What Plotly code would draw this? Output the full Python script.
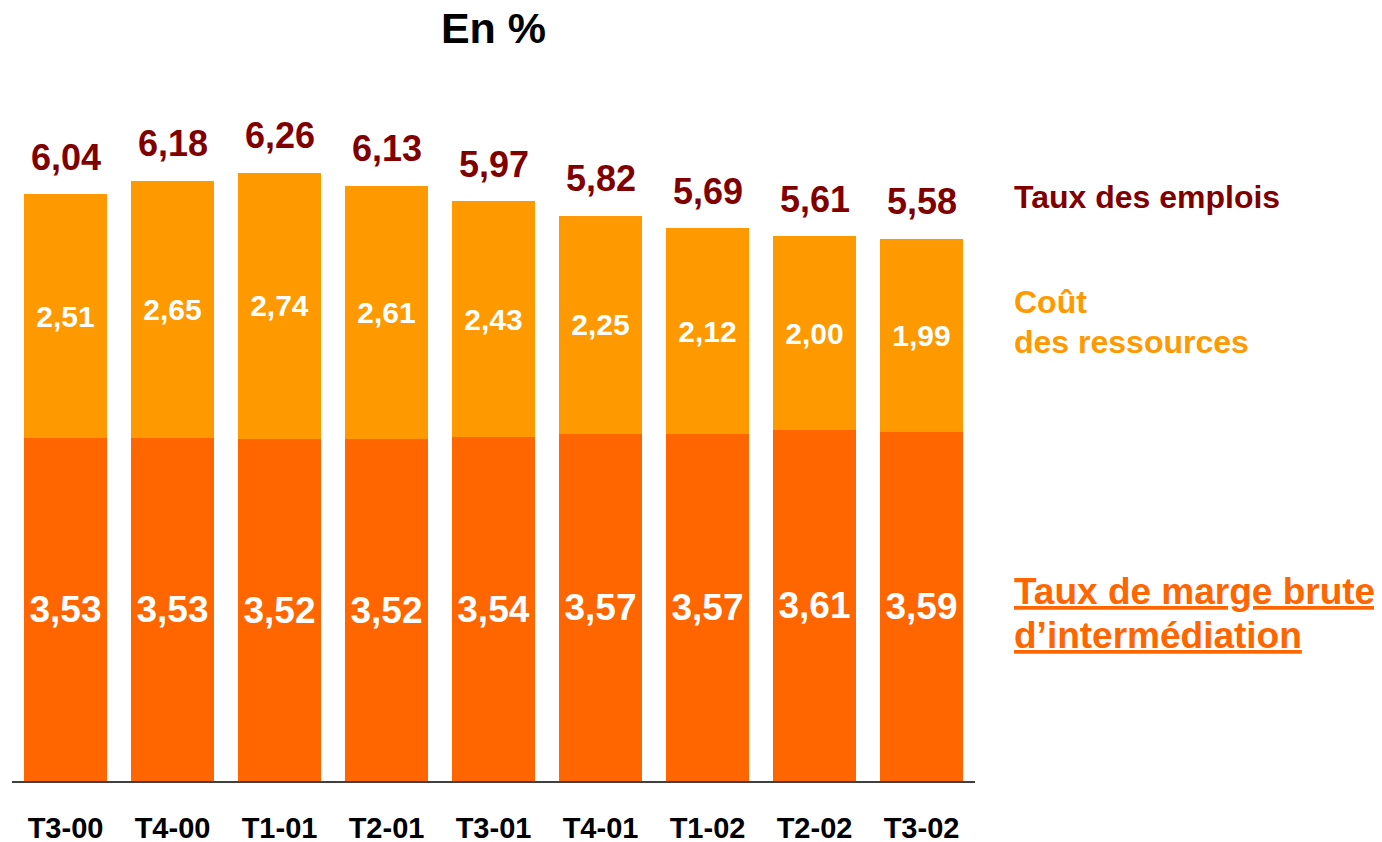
import plotly.graph_objects as go

# quarters shown on the x axis
quarters = ['T3-00', 'T4-00', 'T1-01', 'T2-01', 'T3-01', 'T4-01', 'T1-02', 'T2-02', 'T3-02']

# taux de marge brute d'intermediation (bottom segment)
marge = [3.53, 3.53, 3.52, 3.52, 3.54, 3.57, 3.57, 3.61, 3.59]
# cout des ressources (top segment)
cout = [2.51, 2.65, 2.74, 2.61, 2.43, 2.25, 2.12, 2.00, 1.99]
# taux des emplois (total, shown above each bar)
emplois = [6.04, 6.18, 6.26, 6.13, 5.97, 5.82, 5.69, 5.61, 5.58]

FONT = 'Liberation Sans, Arial, sans-serif'
C_MARGE = '#FF6600'
C_COUT = '#FF9900'
C_EMPLOIS = '#800000'

W, H = 1382, 842
# the page body adds an 8px offset, so everything is placed 8px up and left
OFF = 8


def fr(v):
    # french decimal comma
    return '{:.2f}'.format(v).replace('.', ',')


def side_label(text, y, color, size):
    fig.add_annotation(xref='paper', yref='paper', x=1.038, y=y,
                       xanchor='left', yanchor='middle', align='left',
                       text=text, showarrow=False,
                       font=dict(color=color, size=size, family=FONT))


fig = go.Figure()

fig.add_trace(go.Bar(x=quarters,
                     y=marge,
                     marker_color=C_MARGE,
                     marker_line_width=0,
                     text=['<b>{}</b>'.format(fr(v)) for v in marge],
                     textposition='inside',
                     insidetextanchor='middle',
                     textangle=0,
                     textfont=dict(color='white', size=37, family=FONT),
                     name='marge'))

fig.add_trace(go.Bar(x=quarters,
                     y=cout,
                     marker_color=C_COUT,
                     marker_line_width=0,
                     text=['<b>{}</b>'.format(fr(v)) for v in cout],
                     textposition='inside',
                     insidetextanchor='middle',
                     textangle=0,
                     textfont=dict(color='white', size=30, family=FONT),
                     name='cout'))

for q, v in zip(quarters, emplois):
    fig.add_annotation(x=q, y=v,
                       text='<b>{}</b>'.format(fr(v)),
                       showarrow=False,
                       yanchor='middle',
                       yshift=37,
                       font=dict(color=C_EMPLOIS, size=36, family=FONT))

# series labels on the right
side_label('<b>Taux des emplois</b>', 0.859, C_EMPLOIS, 32)
side_label('<b>Coût</b>', 0.704, C_COUT, 32)
side_label('<b>des ressources</b>', 0.645, C_COUT, 32)
side_label('<b><u>Taux de marge brute</u></b>', 0.278, C_MARGE, 37)
side_label('<b><u>d’intermédiation</u></b>', 0.214, C_MARGE, 37)

fig.update_layout(barmode='stack',
                  bargap=0.23,
                  width=W,
                  height=H,
                  margin=dict(l=12 - OFF, r=W - (975 - OFF), t=101 - OFF, b=H - (781 - OFF),
                              autoexpand=False),
                  paper_bgcolor='white',
                  plot_bgcolor='white',
                  showlegend=False,
                  title=dict(text='<b>En %</b>',
                             x=((12 + 975) / 2 - OFF) / W,
                             xanchor='center',
                             y=1 - (28 - OFF) / H,
                             yanchor='middle',
                             font=dict(color='black', size=43, family=FONT)),
                  uniformtext=dict(mode=False))

fig.update_xaxes(showline=True,
                 linecolor='#404040',
                 linewidth=1.5,
                 ticks='',
                 automargin=False,
                 ticklabelstandoff=20,
                 tickfont=dict(color='black', size=29, family=FONT),
                 tickprefix='<b>',
                 ticksuffix='</b>',
                 showgrid=False)

fig.update_yaxes(range=[0, 7],
                 visible=False,
                 automargin=False,
                 showgrid=False)

fig.write_html("out.html")
